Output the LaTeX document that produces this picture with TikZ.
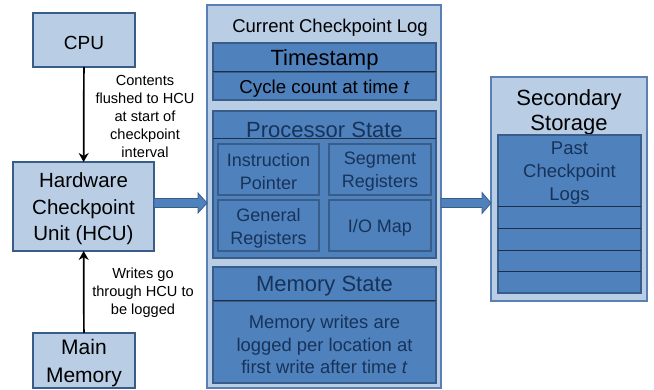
\documentclass[tikz,border=0pt]{standalone}
\usepackage{fontspec}
\setmainfont{Liberation Sans}
\usetikzlibrary{arrows.meta,calc}
\definecolor{lightfill}{HTML}{B9CDE5}
\definecolor{darkfill}{HTML}{4F81BD}
\definecolor{bordblue}{HTML}{385D8A}
\definecolor{midblue}{HTML}{5A7FB5}
\definecolor{navy}{HTML}{17335A}
\definecolor{divline}{HTML}{1F2F45}
\newcommand{\fs}[2]{\fontsize{#1}{#2}\selectfont}
\tikzset{
  lightbox/.style={draw=bordblue, fill=lightfill, line width=1.2pt, inner sep=0pt, outer sep=0pt},
  logbox/.style={draw=midblue, fill=lightfill, line width=1.2pt, inner sep=0pt, outer sep=0pt},
  darkbox/.style={draw=bordblue, fill=darkfill, line width=1.2pt, inner sep=0pt, outer sep=0pt},
  plain/.style={inner sep=0pt, outer sep=0pt, align=center},
  txt/.style={inner sep=0pt, outer sep=0pt, align=center, yshift=-2.5pt},
  thinarrow/.style={line width=1.7pt, -{Stealth[length=9pt,width=10pt]}},
  fat/.style={fill=darkfill, draw=bordblue, line width=0.8pt, line join=miter},
  divider/.style={draw=divline, line width=1pt}
}
\begin{document}
\begin{tikzpicture}[x=1pt,y=-1pt]
\useasboundingbox (0,0) rectangle (654,390);
% left column
\node[lightbox, minimum width=102pt, minimum height=54pt] (cpu) at (84,40) {};
\node[txt, font=\fs{19}{22}] (cput) at (cpu) {CPU};
\node[lightbox, minimum width=141pt, minimum height=89pt] (hcu) at (83.5,206.5) {};
\node[txt, font=\fs{20.5}{26.5}] (hcut) at (hcu) {Hardware\\Checkpoint\\Unit (HCU)};
\node[lightbox, minimum width=102pt, minimum height=55pt] (mem) at (84,360.5) {};
\node[txt, font=\fs{21}{28}] (memt) at (mem) {Main\\Memory};
\draw[thinarrow] (cpu) -- (hcu);
\draw[thinarrow] (mem) -- (hcu);
\node[plain, font=\fs{14.6}{18}] (lab1) at (145,116) {Contents\\flushed to HCU\\at start of\\checkpoint\\interval};
\node[plain, font=\fs{14.6}{18}] (lab2) at (143,293) {Writes go\\through HCU to\\be logged};
% log
\node[logbox, minimum width=234pt, minimum height=383pt] (log) at (324,196.5) {};
\node[plain, font=\fs{18.5}{22}] (logt) at (330,27.5) {Current Checkpoint Log};
\node[darkbox, minimum width=223pt, minimum height=29pt] (ts) at (324.5,57.5) {};
\node[txt, font=\fs{22}{24}] (tst) at (ts) {Timestamp};
\node[darkbox, minimum width=223pt, minimum height=28pt] (cyc) at (324.5,86) {};
\node[txt, font=\fs{18.7}{22}] (cyct) at (cyc) {Cycle count at time \textit{t}};
\draw[divider] (ts.south west) -- (ts.south east);
% processor state
\node[darkbox, minimum width=223pt, minimum height=147pt] (proc) at (324.5,184.5) {};
\node[plain, minimum width=223pt, minimum height=28pt] (ph) at (324.5,125) {};
\node[plain, text=navy, font=\fs{22}{24}] (pht) at (324.5,130) {Processor State};
\draw[divider] (ph.south west) -- (ph.south east);
\node[darkbox, minimum width=101pt, minimum height=51pt] (ip) at (268.5,169.5) {};
\node[txt, text=navy, font=\fs{18}{23}] (ipt) at (ip) {Instruction\\Pointer};
\node[darkbox, minimum width=102pt, minimum height=51pt] (seg) at (380,169.5) {};
\node[txt, text=navy, font=\fs{18}{23}] (segt) at (seg) {Segment\\Registers};
\node[darkbox, minimum width=101pt, minimum height=51pt] (gen) at (268.5,225.5) {};
\node[txt, text=navy, font=\fs{18}{23}] (gent) at (gen) {General\\Registers};
\node[darkbox, minimum width=102pt, minimum height=51pt] (io) at (380,225.5) {};
\node[txt, text=navy, font=\fs{18}{23}] (iot) at (io) {I/O Map};
% memory state
\node[darkbox, minimum width=223pt, minimum height=34pt] (mh) at (324.5,284) {};
\node[txt, text=navy, font=\fs{22}{24}] (mht) at (mh) {Memory State};
\node[darkbox, minimum width=223pt, minimum height=82pt] (mb) at (324.5,342) {};
\node[txt, text=navy, font=\fs{18.4}{22.7}] (mbt) at (mb) {Memory writes are\\logged per location at\\first write after time \textit{t}};
\draw[divider] (mh.south west) -- (mh.south east);
% secondary storage
\node[logbox, minimum width=156pt, minimum height=224pt] (sec) at (569,189) {};
\node[plain, font=\fs{22}{25}] (sect) at (569,112) {Secondary\\Storage};
\node[darkbox, minimum width=143pt, minimum height=158pt] (past) at (569.5,214) {};
\node[plain, text=navy, font=\fs{18.5}{23.3}] (pastt) at (569.5,173) {Past\\Checkpoint\\Logs};
\foreach \yy in {207,229,251,272}
  \draw[divider] (past.west |- 0,\yy) -- (past.east |- 0,\yy);
% fat arrows
\coordinate (a1s) at (hcu.east |- 0,203);
\coordinate (a1e) at (log.west |- 0,203);
\filldraw[fat] ($(a1s)+(0,-4.5)$) -- ($(a1e)+(-9,-4.5)$) -- ($(a1e)+(-9,-10)$) -- (a1e) -- ($(a1e)+(-9,10)$) -- ($(a1e)+(-9,4.5)$) -- ($(a1s)+(0,4.5)$) -- cycle;
\coordinate (a2s) at (log.east |- 0,203);
\coordinate (a2e) at (sec.west |- 0,203);
\filldraw[fat] ($(a2s)+(0,-4.5)$) -- ($(a2e)+(-9,-4.5)$) -- ($(a2e)+(-9,-10.5)$) -- (a2e) -- ($(a2e)+(-9,10.5)$) -- ($(a2e)+(-9,4.5)$) -- ($(a2s)+(0,4.5)$) -- cycle;
\end{tikzpicture}
\end{document}
